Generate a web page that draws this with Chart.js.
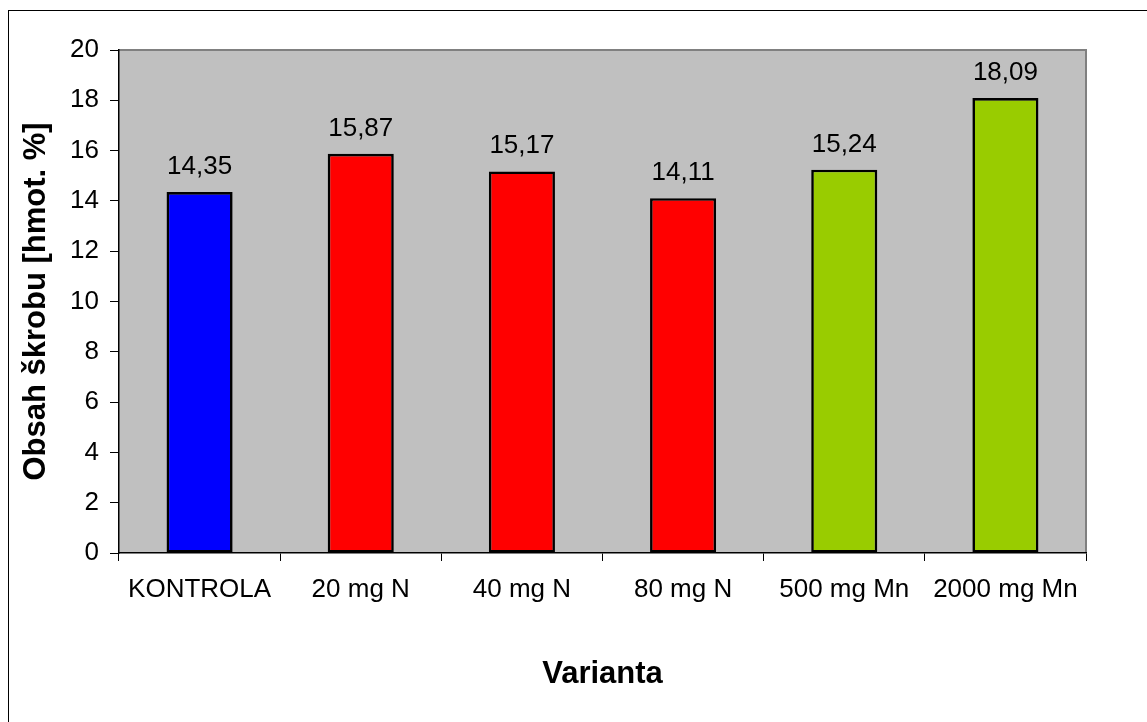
<!DOCTYPE html>
<html>
<head>
<meta charset="utf-8">
<script src="https://cdn.jsdelivr.net/npm/chart.js@4"></script>
<style>
  html, body { margin: 0; padding: 0; background: #ffffff; }
  #wrap { width: 1147px; height: 722px; position: relative; }
</style>
</head>
<body>
<div id="wrap"><canvas id="chart" width="1147" height="722"></canvas></div>
<script>
// Obsah škrobu podle varianty hnojení
const categories = ['KONTROLA', '20 mg N', '40 mg N', '80 mg N', '500 mg Mn', '2000 mg Mn'];
const values = [14.35, 15.87, 15.17, 14.11, 15.24, 18.09];
const barColors = ['#0000FF', '#FF0000', '#FF0000', '#FF0000', '#99CC00', '#99CC00'];
const yTicks = [0, 2, 4, 6, 8, 10, 12, 14, 16, 18, 20];

const FONT = "'Liberation Sans', Arial, sans-serif";

// Grey plot background, plot frame and the outer chart frame
const framePlugin = {
  id: 'frame',
  beforeDraw(chart) {
    const { ctx, chartArea: a } = chart;
    ctx.save();
    ctx.fillStyle = '#ffffff';
    ctx.fillRect(0, 0, chart.width, chart.height);
    ctx.fillStyle = '#C0C0C0';
    ctx.fillRect(a.left, a.top, a.right - a.left, a.bottom - a.top);
    ctx.strokeStyle = '#808080';
    ctx.lineWidth = 2;
    ctx.beginPath();
    ctx.moveTo(a.left, a.top);
    ctx.lineTo(a.right, a.top);
    ctx.lineTo(a.right, a.bottom);
    ctx.stroke();
    ctx.strokeStyle = '#000000';
    ctx.lineWidth = 1;
    ctx.strokeRect(8.5, 10.5, chart.width + 20, chart.height + 20);
    ctx.restore();
  }
};

// Value labels above each bar
const valueLabels = {
  id: 'valueLabels',
  afterDatasetsDraw(chart) {
    const { ctx } = chart;
    const meta = chart.getDatasetMeta(0);
    ctx.save();
    ctx.font = '26px ' + FONT;
    ctx.fillStyle = '#000000';
    ctx.textAlign = 'center';
    ctx.textBaseline = 'alphabetic';
    meta.data.forEach((bar, i) => {
      const txt = values[i].toFixed(2).replace('.', ',');
      ctx.fillText(txt, bar.x, bar.y - 18);
    });
    ctx.restore();
  }
};

new Chart(document.getElementById('chart'), {
  type: 'bar',
  data: {
    labels: categories,
    datasets: [{
      data: values,
      backgroundColor: barColors,
      borderColor: '#000000',
      borderWidth: 2.6,
      borderSkipped: false,
      categoryPercentage: 1,
      barPercentage: 0.41
    }]
  },
  options: {
    responsive: false,
    devicePixelRatio: 1,
    animation: false,
    layout: { padding: { top: 50, right: 61, left: 0, bottom: 0 } },
    plugins: {
      legend: { display: false },
      tooltip: { enabled: false }
    },
    scales: {
      x: {
        offset: true,
        grid: {
          offset: true,
          drawOnChartArea: false,
          drawTicks: true,
          tickLength: 8,
          color: '#000000',
          lineWidth: 1
        },
        border: { display: true, color: '#000000', width: 1.5 },
        ticks: {
          color: '#000000',
          font: { family: FONT, size: 26 },
          padding: 13,
          maxRotation: 0,
          autoSkip: false
        },
        title: {
          display: true,
          text: 'Varianta',
          color: '#000000',
          font: { family: FONT, size: 31, weight: 'bold' },
          padding: { top: 0, bottom: 29 }
        },
        afterFit(scale) { scale.height = 169; }
      },
      y: {
        min: 0,
        max: 20,
        afterBuildTicks(scale) { scale.ticks = yTicks.map(v => ({ value: v })); },
        grid: {
          drawOnChartArea: false,
          drawTicks: true,
          tickLength: 9,
          color: '#000000',
          lineWidth: 1
        },
        border: { display: true, color: '#000000', width: 1.5 },
        ticks: {
          color: '#000000',
          font: { family: FONT, size: 26 },
          padding: 11
        },
        title: {
          display: true,
          text: 'Obsah škrobu [hmot. %]',
          color: '#000000',
          font: { family: FONT, size: 31, weight: 'bold' },
          padding: { top: 18, bottom: 0 }
        },
        afterFit(scale) { scale.width = 119; }
      }
    }
  },
  plugins: [framePlugin, valueLabels]
});
</script>
</body>
</html>
